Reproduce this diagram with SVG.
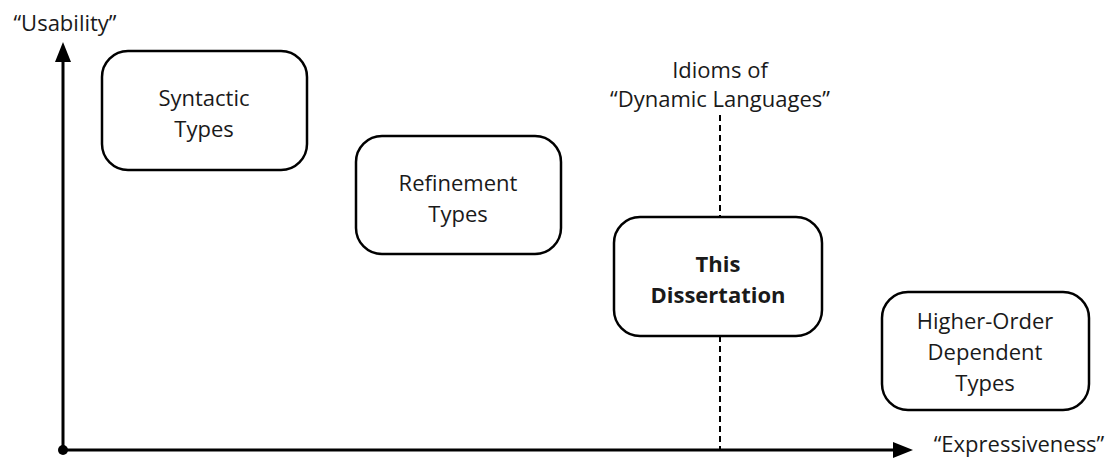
<svg xmlns="http://www.w3.org/2000/svg" width="1111" height="459" viewBox="0 0 1111 459">
<style>
.box{fill:#fff;stroke:#000;stroke-width:2.5}
text{font-family:"Open Sans","Noto Sans",sans-serif;font-size:22px;fill:#1a1a1a;text-anchor:middle}
.b{font-weight:bold}
.ax{stroke:#000;stroke-width:3;fill:none}
.dash{stroke:#000;stroke-width:2;stroke-dasharray:6,4;fill:none}
</style>
<g id="connectors">
<line class="dash" x1="720" y1="115" x2="720" y2="217"/>
<line class="dash" x1="720" y1="336" x2="720" y2="450"/>
<line class="ax" x1="63" y1="450" x2="63" y2="62"/>
<path d="M55,62 L63,42 L71,62 z" fill="#000"/>
<line class="ax" x1="63" y1="450" x2="893" y2="450"/>
<path d="M893,442 L913,450 L893,458 z" fill="#000"/>
<circle cx="63" cy="450" r="5" fill="#000"/>
</g>
<g id="labels">
<text x="65" y="31">“Usability”</text>
<text x="1019" y="452">“Expressiveness”</text>
<text x="720" y="78">Idioms of</text>
<text x="720" y="107">“Dynamic Languages”</text>
</g>
<g id="syntactic">
<rect class="box" x="102" y="51" width="205" height="119" rx="26"/>
<text x="204" y="106">Syntactic</text>
<text x="204" y="137">Types</text>
</g>
<g id="refinement">
<rect class="box" x="356" y="136" width="205" height="118" rx="26"/>
<text x="458" y="191">Refinement</text>
<text x="458" y="222">Types</text>
</g>
<g id="dissertation">
<rect class="box" x="614" y="217" width="208" height="119" rx="26"/>
<text class="b" x="718" y="272">This</text>
<text class="b" x="718" y="303">Dissertation</text>
</g>
<g id="higher-order">
<rect class="box" x="882" y="292" width="207" height="118" rx="26"/>
<text x="985" y="329">Higher-Order</text>
<text x="985" y="360">Dependent</text>
<text x="985" y="391">Types</text>
</g>
</svg>
